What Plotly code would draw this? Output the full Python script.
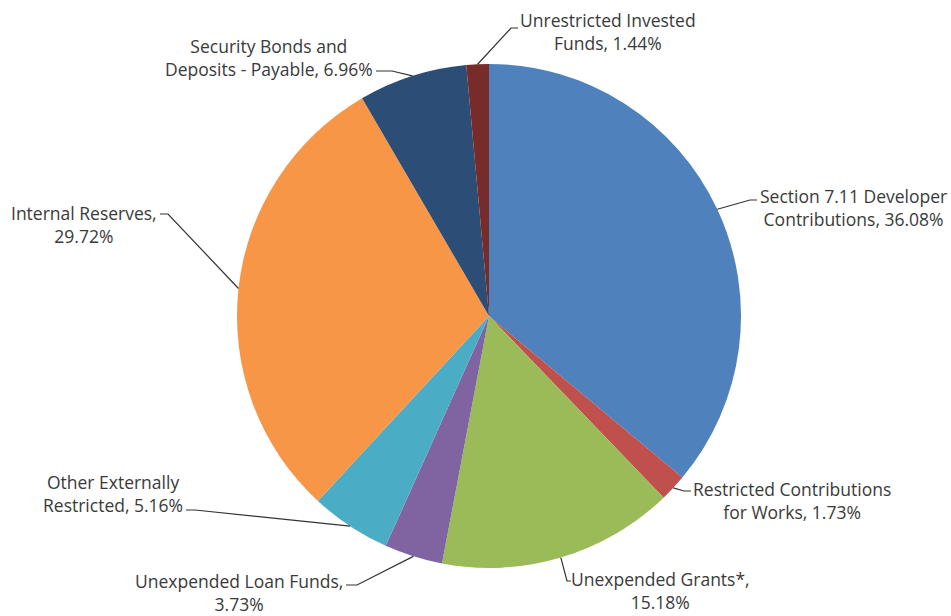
import math
import plotly.graph_objects as go

W, H = 951, 616

labels = ["Section 7.11 Developer Contributions", "Restricted Contributions for Works",
          "Unexpended Grants*", "Unexpended Loan Funds", "Other Externally Restricted",
          "Internal Reserves", "Security Bonds and Deposits - Payable", "Unrestricted Invested Funds"]
values = [36.08, 1.73, 15.18, 3.73, 5.16, 29.72, 6.96, 1.44]
colors = ["#4F81BD", "#C0504D", "#9BBB59", "#8064A2", "#4BACC6", "#F79646", "#2C4D75", "#772C2A"]
label_texts = ["Section 7.11 Developer<br>Contributions, 36.08%",
               "Restricted Contributions<br>for Works, 1.73%",
               "Unexpended Grants*,<br>15.18%",
               "Unexpended Loan Funds,<br>3.73%",
               "Other Externally<br>Restricted, 5.16%",
               "Internal Reserves,<br>29.72%",
               "Security Bonds and<br>Deposits - Payable, 6.96%",
               "Unrestricted Invested<br>Funds, 1.44%"]

# pie geometry (pixels)
CX, CY, R = 489, 316, 252

# label layout: text anchor (x, y, xanchor), elbow point, line end point
label_layout = [
    dict(tx=759, ty=207, xa="left", elbow=(750, 200), end=(757, 200)),
    dict(tx=692, ty=500, xa="left", elbow=(684, 491), end=(691, 491)),
    dict(tx=570, ty=590, xa="left", elbow=(567, 581), end=(571, 581)),
    dict(tx=344, ty=592, xa="right", elbow=(357, 585), end=(346, 585)),
    dict(tx=184, ty=493, xa="right", elbow=(195, 510), end=(186, 510)),
    dict(tx=158, ty=224, xa="right", elbow=(168, 214), end=(160, 214)),
    dict(tx=374, ty=57, xa="right", elbow=(392, 71), end=(376, 71)),
    dict(tx=519, ty=31, xa="left", elbow=(511, 28), end=(518, 28)),
]

def px(x):
    return x / W

def py(y):
    return 1 - y / H

fig = go.Figure(go.Pie(
    labels=labels, values=values, sort=False, direction="clockwise", rotation=0,
    marker=dict(colors=colors, line=dict(width=0)),
    textinfo="none", showlegend=False, hoverinfo="label+percent",
    domain=dict(x=[px(CX - R), px(CX + R)], y=[py(CY + R), py(CY - R)]),
))

total = sum(values)
cum = 0
shapes = []
annotations = []
for v, txt, lay in zip(values, label_texts, label_layout):
    mid = (cum + v / 2) / total * 2 * math.pi
    cum += v
    ex = CX + R * math.sin(mid)
    ey = CY - R * math.cos(mid)
    path = "M {} {} L {} {} L {} {}".format(
        px(ex), py(ey), px(lay["elbow"][0]), py(lay["elbow"][1]),
        px(lay["end"][0]), py(lay["end"][1]))
    shapes.append(dict(type="path", path=path, xref="paper", yref="paper",
                       line=dict(color="#333333", width=1.2)))
    annotations.append(dict(x=px(lay["tx"]), y=py(lay["ty"]), xref="paper", yref="paper",
                            text=txt, showarrow=False, xanchor=lay["xa"], yanchor="middle",
                            align="center", borderpad=0,
                            font=dict(family="Open Sans", size=17.5, color="#3a3a3a")))

fig.update_layout(width=W, height=H, margin=dict(l=0, r=0, t=0, b=0),
                  paper_bgcolor="white", plot_bgcolor="white",
                  shapes=shapes, annotations=annotations)
fig.write_html("out.html")
